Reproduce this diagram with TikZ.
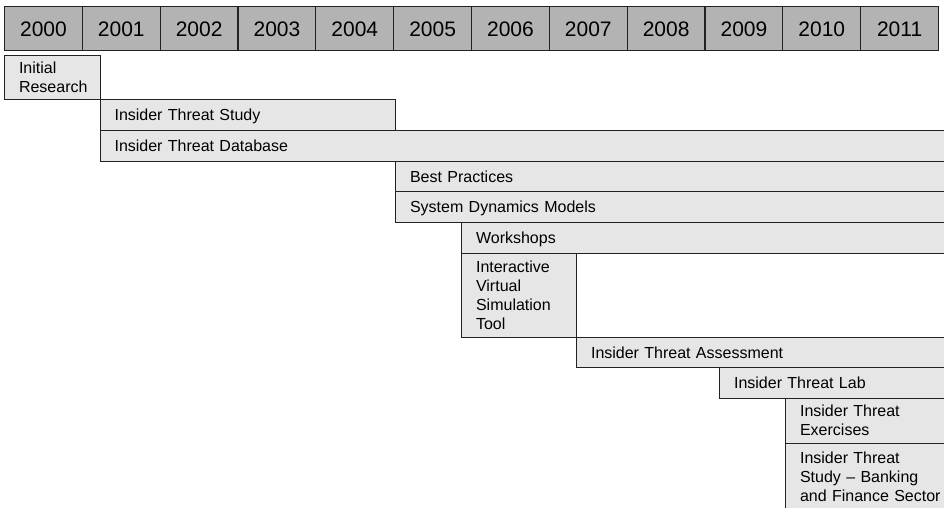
\documentclass[tikz,border=0pt]{standalone}
\usepackage{fontspec}
\setmainfont{Liberation Sans}
\definecolor{headgray}{HTML}{B3B3B3}
\definecolor{bargray}{HTML}{E6E6E6}
\definecolor{edgec}{HTML}{222222}
\begin{document}
\begin{tikzpicture}[x=1pt,y=-1pt,
  yearcell/.style={draw=edgec, fill=headgray, line width=1.1pt,
    minimum width=77.83pt, minimum height=44pt, inner sep=0pt,
    anchor=north west, font=\fontsize{21}{25}\selectfont,
    text height=15pt, text depth=0pt},
  bar/.style={draw=edgec, fill=bargray, line width=1.1pt,
    anchor=north west, inner xsep=14.5pt, inner ysep=0pt,
    align=left, font=\fontsize{16}{19}\selectfont},
  oneline/.style={text height=11.5pt, text depth=0pt},
  span/.style 2 args={text width=#1pt, minimum height=#2pt}]
\useasboundingbox (0,0) rectangle (944,507);
\clip (0,0) rectangle (944,507);
\fill[white] (0,0) rectangle (944,507);

% year header
\foreach \i in {0,...,11}{
  \pgfmathtruncatemacro\yr{2000+\i}
  \node[yearcell] (y\yr) at ({4+77.83*\i},6) {\yr};
}

% activity bars (text width = box width minus side insets)
\node[bar, span={66.5}{44.8}] (init) at (4,54.5) {Initial\\Research};
\node[bar, oneline, span={266.5}{30.7}] (study) at (99.5,99.3) {Insider Threat Study};
\node[bar, oneline, span={851.5}{30.5}] (database) at (99.5,130) {Insider Threat Database};
\node[bar, oneline, span={556}{30.5}] (practices) at (395,160.5) {Best Practices};
\node[bar, oneline, span={556}{31}] (sysdyn) at (395,191) {System Dynamics Models};
\node[bar, oneline, span={490}{31}] (workshops) at (461,222) {Workshops};
\node[bar, span={86}{84}] (simtool) at (461,253) {Interactive\\Virtual\\Simulation\\Tool};
\node[bar, oneline, span={375}{30}] (assess) at (576,337) {Insider Threat Assessment};
\node[bar, oneline, span={232}{30.5}] (lab) at (719,367) {Insider Threat Lab};
\node[bar, span={166}{45}] (exercises) at (785,397.5) {Insider Threat\\Exercises};
\node[bar, span={166}{68}] (banking) at (785,442.5) {Insider Threat\\Study – Banking\\and Finance Sector};
\end{tikzpicture}
\end{document}
